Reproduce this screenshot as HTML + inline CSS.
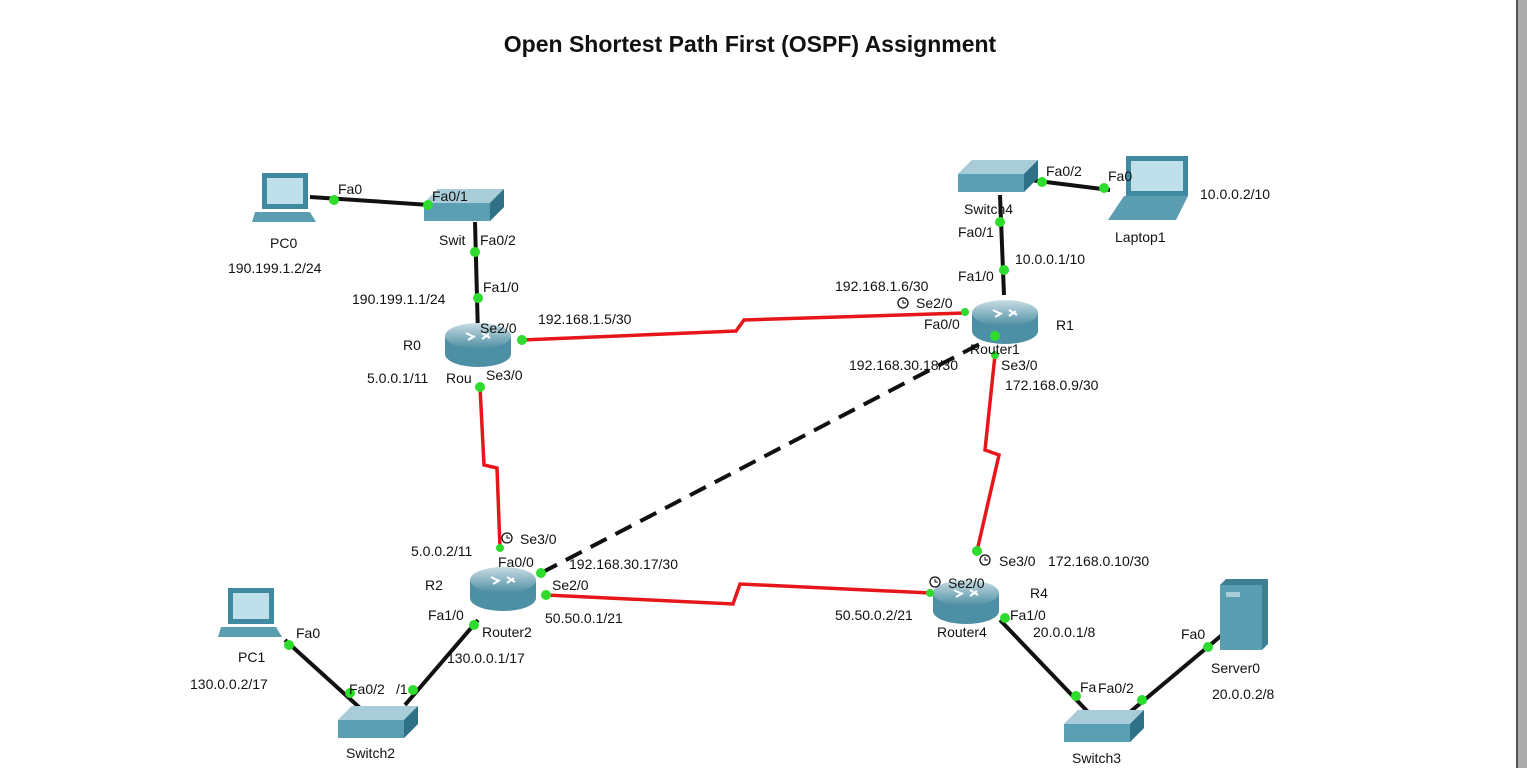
<!DOCTYPE html>
<html><head><meta charset="utf-8"><style>
body{margin:0;background:#fff;}
svg text{font-family:"Liberation Sans",sans-serif;font-size:14px;fill:#111;}
</style></head><body>
<svg width="1527" height="768" viewBox="0 0 1527 768" xmlns="http://www.w3.org/2000/svg">
<defs>
<linearGradient id="rg" x1="0" y1="0" x2="0" y2="1"><stop offset="0" stop-color="#c9dde4"/><stop offset="1" stop-color="#4d8ea2"/></linearGradient>
<g id="router">
<path d="M-33,-8 L-33,10 A33,13 0 0 0 33,10 L33,-8 Z" fill="#4d8fa4"/>
<ellipse cx="0" cy="-8" rx="33" ry="13" fill="url(#rg)"/>
<path d="M-12,-11 L-4,-7 M4,-11 L12,-6 M-10,-4 L-3,-8 M4,-5 L11,-10" stroke="#fff" stroke-width="2" fill="none"/>
</g>
<g id="switch">
<path d="M0,14 L14,0 L80,0 L80,18 L66,32 L0,32 Z" fill="#5a9fb3"/>
<path d="M0,14 L14,0 L80,0 L66,14 Z" fill="#a9cdd8"/>
<path d="M66,14 L80,0 L80,18 L66,32 Z" fill="#2f7287"/>
</g>
</defs>
<rect x="1516" y="0" width="11" height="768" fill="#ababab"/>
<rect x="1516" y="0" width="2" height="768" fill="#555"/>
<text x="750" y="52" text-anchor="middle" style="font-size:23px;font-weight:bold">Open Shortest Path First (OSPF) Assignment</text>

<g stroke="#111" stroke-width="4" fill="none">
<line x1="310" y1="197" x2="430" y2="205"/>
<line x1="475" y1="222" x2="478" y2="335"/>
<line x1="1000" y1="195" x2="1004" y2="295"/>
<line x1="1030" y1="180" x2="1110" y2="190"/>
<line x1="285" y1="640" x2="360" y2="708"/>
<line x1="405" y1="705" x2="478" y2="620"/>
<line x1="1000" y1="620" x2="1088" y2="712"/>
<line x1="1130" y1="712" x2="1222" y2="635"/>
<line x1="541" y1="573" x2="995" y2="336" stroke-dasharray="18,10"/>
</g>
<g stroke="#e5171b" stroke-width="3.5" fill="none">
<polyline points="522,340 736,331 744,320 965,313"/>
<polyline points="480,387 484,465 497,468 500,548"/>
<polyline points="546,595 733,604 740,584 930,593"/>
<polyline points="995,355 985,450 999,455 977,551"/>
</g>

<use href="#router" x="478" y="344"/>
<use href="#router" x="503" y="588"/>
<use href="#router" x="1005" y="321"/>
<use href="#router" x="966" y="601"/>
<use href="#switch" x="424" y="189"/>
<use href="#switch" x="958" y="160"/>
<use href="#switch" x="338" y="706"/>
<use href="#switch" x="1064" y="710"/>
<rect x="262" y="173" width="46" height="36" fill="#3f8aa0"/><rect x="267" y="178" width="36" height="26" fill="#bfe0ea"/>
<path d="M255,212 L310,212 L316,222 L252,222 Z" fill="#5b9db1"/>
<rect x="228" y="588" width="46" height="36" fill="#3f8aa0"/><rect x="233" y="593" width="36" height="26" fill="#bfe0ea"/>
<path d="M221,627 L276,627 L282,637 L218,637 Z" fill="#5b9db1"/>
<rect x="1126" y="156" width="62" height="40" fill="#3f8aa0"/><rect x="1131" y="161" width="52" height="30" fill="#bfe0ea"/>
<path d="M1124,196 L1188,196 L1176,220 L1108,220 Z" fill="#5b9db1"/>
<path d="M1220,585 L1226,579 L1268,579 L1268,644 L1262,650 L1220,650 Z" fill="#3d8093"/>
<rect x="1220" y="585" width="42" height="65" fill="#5b9db1"/><rect x="1226" y="592" width="14" height="5" fill="#a9cdd8"/>

<g fill="#2ddc2d">
<circle cx="334" cy="200" r="5"/><circle cx="428" cy="205" r="5"/>
<circle cx="475" cy="252" r="5"/><circle cx="478" cy="298" r="5"/>
<circle cx="522" cy="340" r="5"/><circle cx="480" cy="387" r="5"/>
<circle cx="965" cy="312" r="4"/><circle cx="1004" cy="270" r="5"/><circle cx="1000" cy="222" r="5"/>
<circle cx="1042" cy="182" r="5"/><circle cx="1104" cy="188" r="5"/>
<circle cx="995" cy="336" r="5"/><circle cx="995" cy="355" r="4"/>
<circle cx="500" cy="548" r="4"/><circle cx="541" cy="573" r="5"/><circle cx="546" cy="595" r="5"/><circle cx="474" cy="625" r="5"/>
<circle cx="977" cy="551" r="5"/><circle cx="930" cy="593" r="4"/><circle cx="1005" cy="618" r="5"/>
<circle cx="289" cy="645" r="5"/><circle cx="350" cy="693" r="5"/><circle cx="413" cy="690" r="5"/>
<circle cx="1076" cy="696" r="5"/><circle cx="1142" cy="700" r="5"/><circle cx="1208" cy="647" r="5"/>
</g>

<text x="338" y="194">Fa0</text><text x="432" y="201">Fa0/1</text>
<text x="270" y="248">PC0</text><text x="228" y="273">190.199.1.2/24</text>
<text x="439" y="245">Swit</text><text x="480" y="245">Fa0/2</text>
<text x="483" y="292">Fa1/0</text><text x="352" y="304">190.199.1.1/24</text>
<text x="480" y="333">Se2/0</text><text x="538" y="324">192.168.1.5/30</text>
<text x="403" y="350">R0</text>
<text x="367" y="383">5.0.0.1/11</text><text x="446" y="383">Rou</text><text x="486" y="380">Se3/0</text>
<text x="964" y="214">Switch4</text><text x="1046" y="176">Fa0/2</text><text x="1108" y="181">Fa0</text>
<text x="1200" y="199">10.0.0.2/10</text><text x="1115" y="242">Laptop1</text>
<text x="958" y="237">Fa0/1</text><text x="1015" y="264">10.0.0.1/10</text>
<text x="958" y="281">Fa1/0</text><text x="835" y="291">192.168.1.6/30</text>
<circle cx="903" cy="303" r="5" fill="none" stroke="#111" stroke-width="1.3"/><path d="M903,300 L903,303 L906,303" stroke="#111" fill="none"/>
<text x="916" y="308">Se2/0</text><text x="924" y="329">Fa0/0</text><text x="1056" y="330">R1</text>
<text x="970" y="354">Router1</text>
<text x="849" y="370">192.168.30.18/30</text><text x="1001" y="370">Se3/0</text>
<text x="1005" y="390">172.168.0.9/30</text>
<circle cx="507" cy="538" r="5" fill="none" stroke="#111" stroke-width="1.3"/><path d="M507,535 L507,538 L510,538" stroke="#111" fill="none"/>
<text x="520" y="544">Se3/0</text><text x="411" y="556">5.0.0.2/11</text>
<text x="498" y="567">Fa0/0</text><text x="569" y="569">192.168.30.17/30</text>
<text x="425" y="590">R2</text><text x="552" y="590">Se2/0</text>
<text x="428" y="620">Fa1/0</text><text x="545" y="623">50.50.0.1/21</text>
<text x="482" y="637">Router2</text><text x="447" y="663">130.0.0.1/17</text>
<text x="296" y="638">Fa0</text><text x="238" y="662">PC1</text><text x="190" y="689">130.0.0.2/17</text>
<text x="349" y="694">Fa0/2</text><text x="396" y="694">/1</text><text x="346" y="758">Switch2</text>
<circle cx="985" cy="560" r="5" fill="none" stroke="#111" stroke-width="1.3"/><path d="M985,557 L985,560 L988,560" stroke="#111" fill="none"/>
<text x="999" y="566">Se3/0</text><text x="1048" y="566">172.168.0.10/30</text>
<circle cx="935" cy="582" r="5" fill="none" stroke="#111" stroke-width="1.3"/><path d="M935,579 L935,582 L938,582" stroke="#111" fill="none"/>
<text x="948" y="588">Se2/0</text><text x="1030" y="598">R4</text>
<text x="835" y="620">50.50.0.2/21</text><text x="1010" y="620">Fa1/0</text>
<text x="937" y="637">Router4</text><text x="1033" y="637">20.0.0.1/8</text>
<text x="1181" y="639">Fa0</text><text x="1211" y="673">Server0</text><text x="1212" y="699">20.0.0.2/8</text>
<text x="1080" y="692">Fa</text><text x="1098" y="693">Fa0/2</text><text x="1072" y="763">Switch3</text>
</svg>
</body></html>
